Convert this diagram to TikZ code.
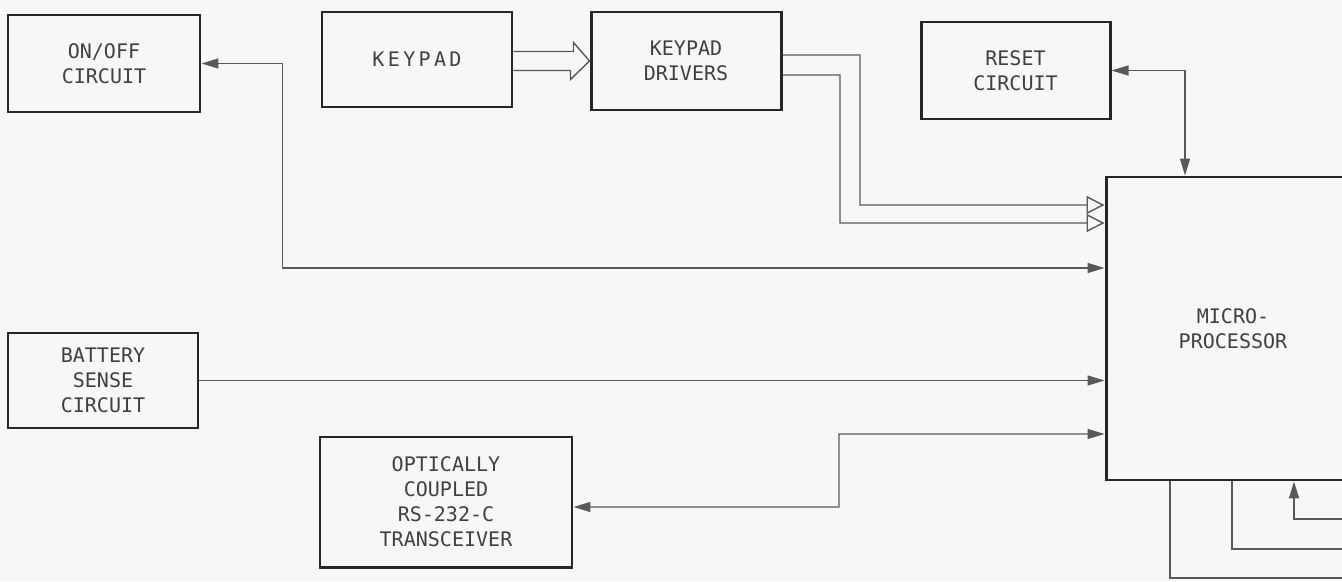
\documentclass[tikz,border=0pt]{standalone}
\usepackage{fontspec}
\setmonofont{DejaVu Sans Mono}
\usetikzlibrary{arrows.meta, positioning, calc}

\begin{document}
\begin{tikzpicture}[
    block/.style={draw=black!85, line width=1.7pt, align=center, text=black!75,
        font=\ttfamily\fontsize{11.4}{14.2}\selectfont},
    sig/.style={draw=black!65, line width=0.8pt},
    tip/.style={sig, -{Triangle[length=0.34cm, width=0.2cm]}},
    twotip/.style={sig, {Triangle[length=0.34cm, width=0.2cm]}-{Triangle[length=0.34cm, width=0.2cm]}},
    hollow/.style={sig, -{Triangle[open, length=0.36cm, width=0.36cm]}}]
        \fill[black!3] (0,0) rectangle (26.84,11.62);
        \useasboundingbox (0,0) rectangle (26.84,11.62);
        \clip (0,0) rectangle (26.84,11.62);

        \node[block, minimum width=3.84cm, minimum height=1.94cm] (onoff) at (2.08,10.35) {ON/OFF\\CIRCUIT};
        \node[block, minimum width=3.8cm, minimum height=1.9cm] (keypad) at (8.34,10.43) {K\,E\,Y\,P\,A\,D};
        \node[block, minimum width=3.8cm, minimum height=1.96cm] (kdrv) at (13.72,10.4) {KEYPAD\\DRIVERS};
        \node[block, minimum width=3.78cm, minimum height=1.94cm] (reset) at (20.31,10.21) {RESET\\CIRCUIT};
        \node[block, minimum width=5.08cm, minimum height=6.06cm] (mp) at (24.66,5.05) {MICRO-\\PROCESSOR};
        \node[block, minimum width=3.8cm, minimum height=1.9cm] (battery) at (2.06,4.01) {BATTERY\\SENSE\\CIRCUIT};
        \node[block, minimum width=5.04cm, minimum height=2.6cm] (rs232) at (8.92,1.58) {OPTICALLY\\COUPLED\\RS-232-C\\TRANSCEIVER};

        % keypad bus
        \draw[sig] ([yshift=0.16cm]keypad.east) -- ++(1.2,0) -- ++(0,0.18) -- (kdrv.west)
            -- ++(-0.38,-0.37) -- ++(0,0.18) -- ([yshift=-0.22cm]keypad.east);

        % drivers to microprocessor
        \draw[hollow] ([yshift=0.12cm]kdrv.east) -| (17.2,7.52) -- ([yshift=2.47cm]mp.west);
        \draw[hollow] ([yshift=-0.28cm]kdrv.east) -| (16.8,7.16) -- ([yshift=2.11cm]mp.west);

        \draw[twotip] (reset.east) -| ([xshift=-0.96cm]mp.north);
        \draw[twotip] (onoff.east) -- ++(1.62,0) |- ([yshift=1.21cm]mp.west);
        \draw[tip] (battery.east) -- (battery.east -| mp.west);
        \draw[twotip] ([yshift=-0.1cm]rs232.east) -| (16.78,2.94) -- ([yshift=-2.11cm]mp.west);

        % lines off the page
        \coordinate (outa) at (27.5,0.06);
        \coordinate (outb) at (27.5,0.64);
        \coordinate (outc) at (27.5,1.24);
        \draw[sig] ([xshift=-1.26cm]mp.south) |- (outa);
        \draw[sig] ([xshift=-0.02cm]mp.south) |- (outb);
        \draw[tip] (outc) -| ([xshift=1.22cm]mp.south);
    \end{tikzpicture}
\end{document}
